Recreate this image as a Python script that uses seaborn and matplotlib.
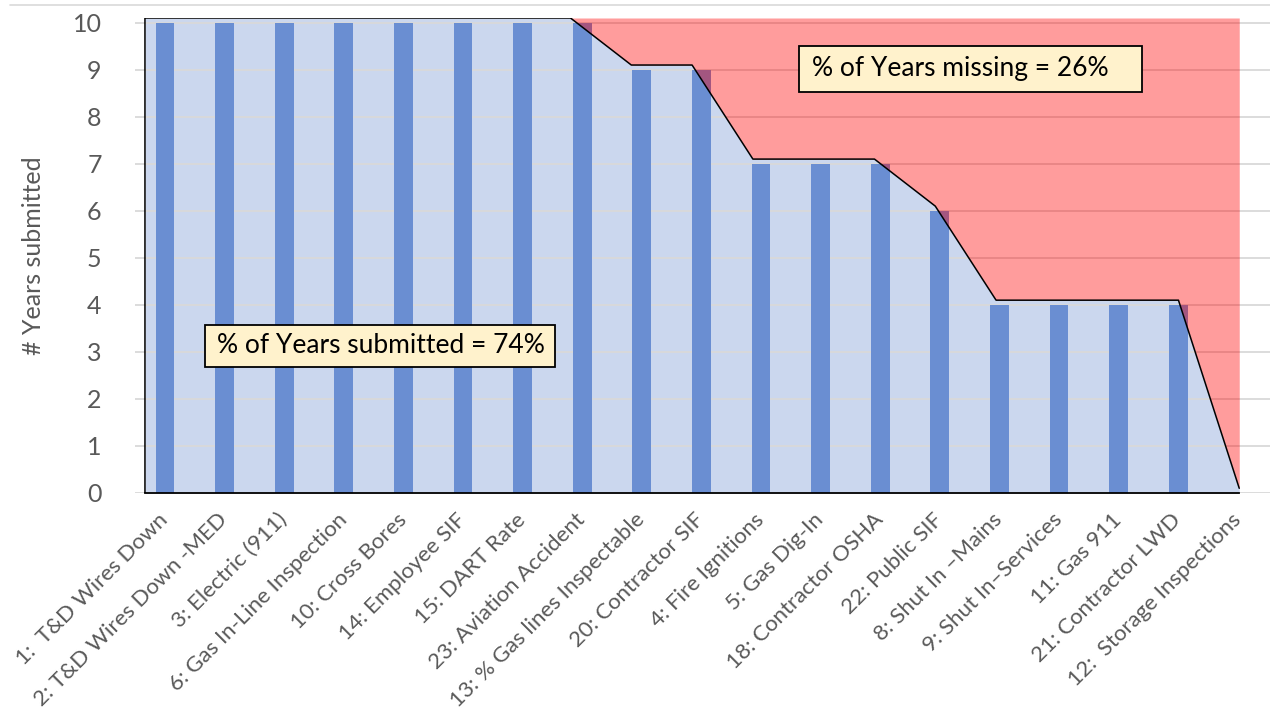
import numpy as np
import matplotlib.pyplot as plt
import seaborn as sns
import pandas as pd
from matplotlib.patches import Rectangle

# data
categories = ['1:  T&D Wires Down', '2: T&D Wires Down -MED', '3: Electric (911)',
              '6: Gas In-Line Inspection', '10: Cross Bores', '14: Employee SIF',
              '15: DART Rate', '23: Aviation Accident', '13: % Gas lines Inspectable',
              '20: Contractor SIF', '4: Fire Ignitions', '5: Gas Dig-In',
              '18: Contractor OSHA', '22: Public SIF', '8: Shut In \u2013Mains',
              '9: Shut In\u2013Services', '11: Gas 911', '21: Contractor LWD',
              '12:  Storage Inspections']
years = [10, 10, 10, 10, 10, 10, 10, 10, 9, 9, 7, 7, 7, 6, 4, 4, 4, 4]
bar_labels = categories[:18]
max_years = 10
submitted_txt = '% of Years submitted = 74%'
missing_txt = '% of Years missing = 26%'

df = pd.DataFrame({'cat': bar_labels, 'years': years})

sns.set_style('white')
plt.rcParams['font.family'] = ['Lato', 'DejaVu Sans']

fig = plt.figure(figsize=(12.7, 7.22), dpi=100)
ax = fig.add_axes([135 / 1270, 1 - 493 / 722, 1 - 135 / 1270, (493 - 18) / 722])

# area series sits on its own (slightly wider) category axis, one point per edge
area_start, area_step = -0.336, 1.02
edge_x = area_start + area_step * np.arange(len(years) + 1)
edge_y = np.array(years + [0]) + 0.1
top = max_years + 0.1

ax.fill_between(edge_x, 0, edge_y, color='#CBD7EE', zorder=0.5, lw=0)
ax.fill_between(edge_x, edge_y, top, color='#FF0000', alpha=0.39, zorder=3, lw=0)
ax.plot(np.r_[edge_x[0], edge_x], np.r_[0, edge_y], color='black', lw=1.1, zorder=4)

sns.barplot(data=df, x='cat', y='years', color='#6A8ED2', saturation=1,
            width=0.314, linewidth=0, ax=ax, zorder=2)

ax.set_xlim(-0.503, 18.54)
ax.set_ylim(0, top)
ax.set_yticks(range(0, 11))
ax.yaxis.grid(True, color='#D9D9D9', lw=1.3)
for gl in ax.get_ygridlines():
    gl.set_zorder(1)

ax.set_xticks(np.arange(len(categories)) - 0.12)
ax.set_xticklabels(categories, rotation=45, ha='right', rotation_mode='anchor',
                   fontsize=16, color='#595959')
ax.tick_params(axis='x', length=0, pad=12)
ax.tick_params(axis='y', length=0, pad=24, labelsize=18, labelcolor='#595959')
ax.set_xlabel('')
ax.set_ylabel('# Years submitted', fontsize=18, color='#595959', labelpad=20)

for s in ['top', 'right', 'left']:
    ax.spines[s].set_visible(False)
ax.spines['bottom'].set_color('black')
ax.spines['bottom'].set_linewidth(1.3)
ax.spines['bottom'].set_bounds(edge_x[0], edge_x[-1])
ax.spines['bottom'].set_zorder(5)

# note boxes
ax.add_patch(Rectangle((0.671, 2.681), 5.873, 0.893, facecolor='#FFF2CC',
                       edgecolor='black', lw=1.3, zorder=6))
ax.text(0.872, 3.128, submitted_txt, ha='left', va='center', fontsize=19,
        color='black', zorder=7)
ax.add_patch(Rectangle((10.638, 8.532), 5.755, 0.979, facecolor='#FFF2CC',
                       edgecolor='black', lw=1.3, zorder=6))
ax.text(10.856, 9.02, missing_txt, ha='left', va='center', fontsize=19,
        color='black', zorder=7)

# thin chart frame line at the very top
fig.add_artist(plt.Line2D([10 / 1270, 1], [1 - 5 / 722, 1 - 5 / 722],
                          color='#D9D9D9', lw=1.2))

fig.savefig('out.png', dpi=100)
